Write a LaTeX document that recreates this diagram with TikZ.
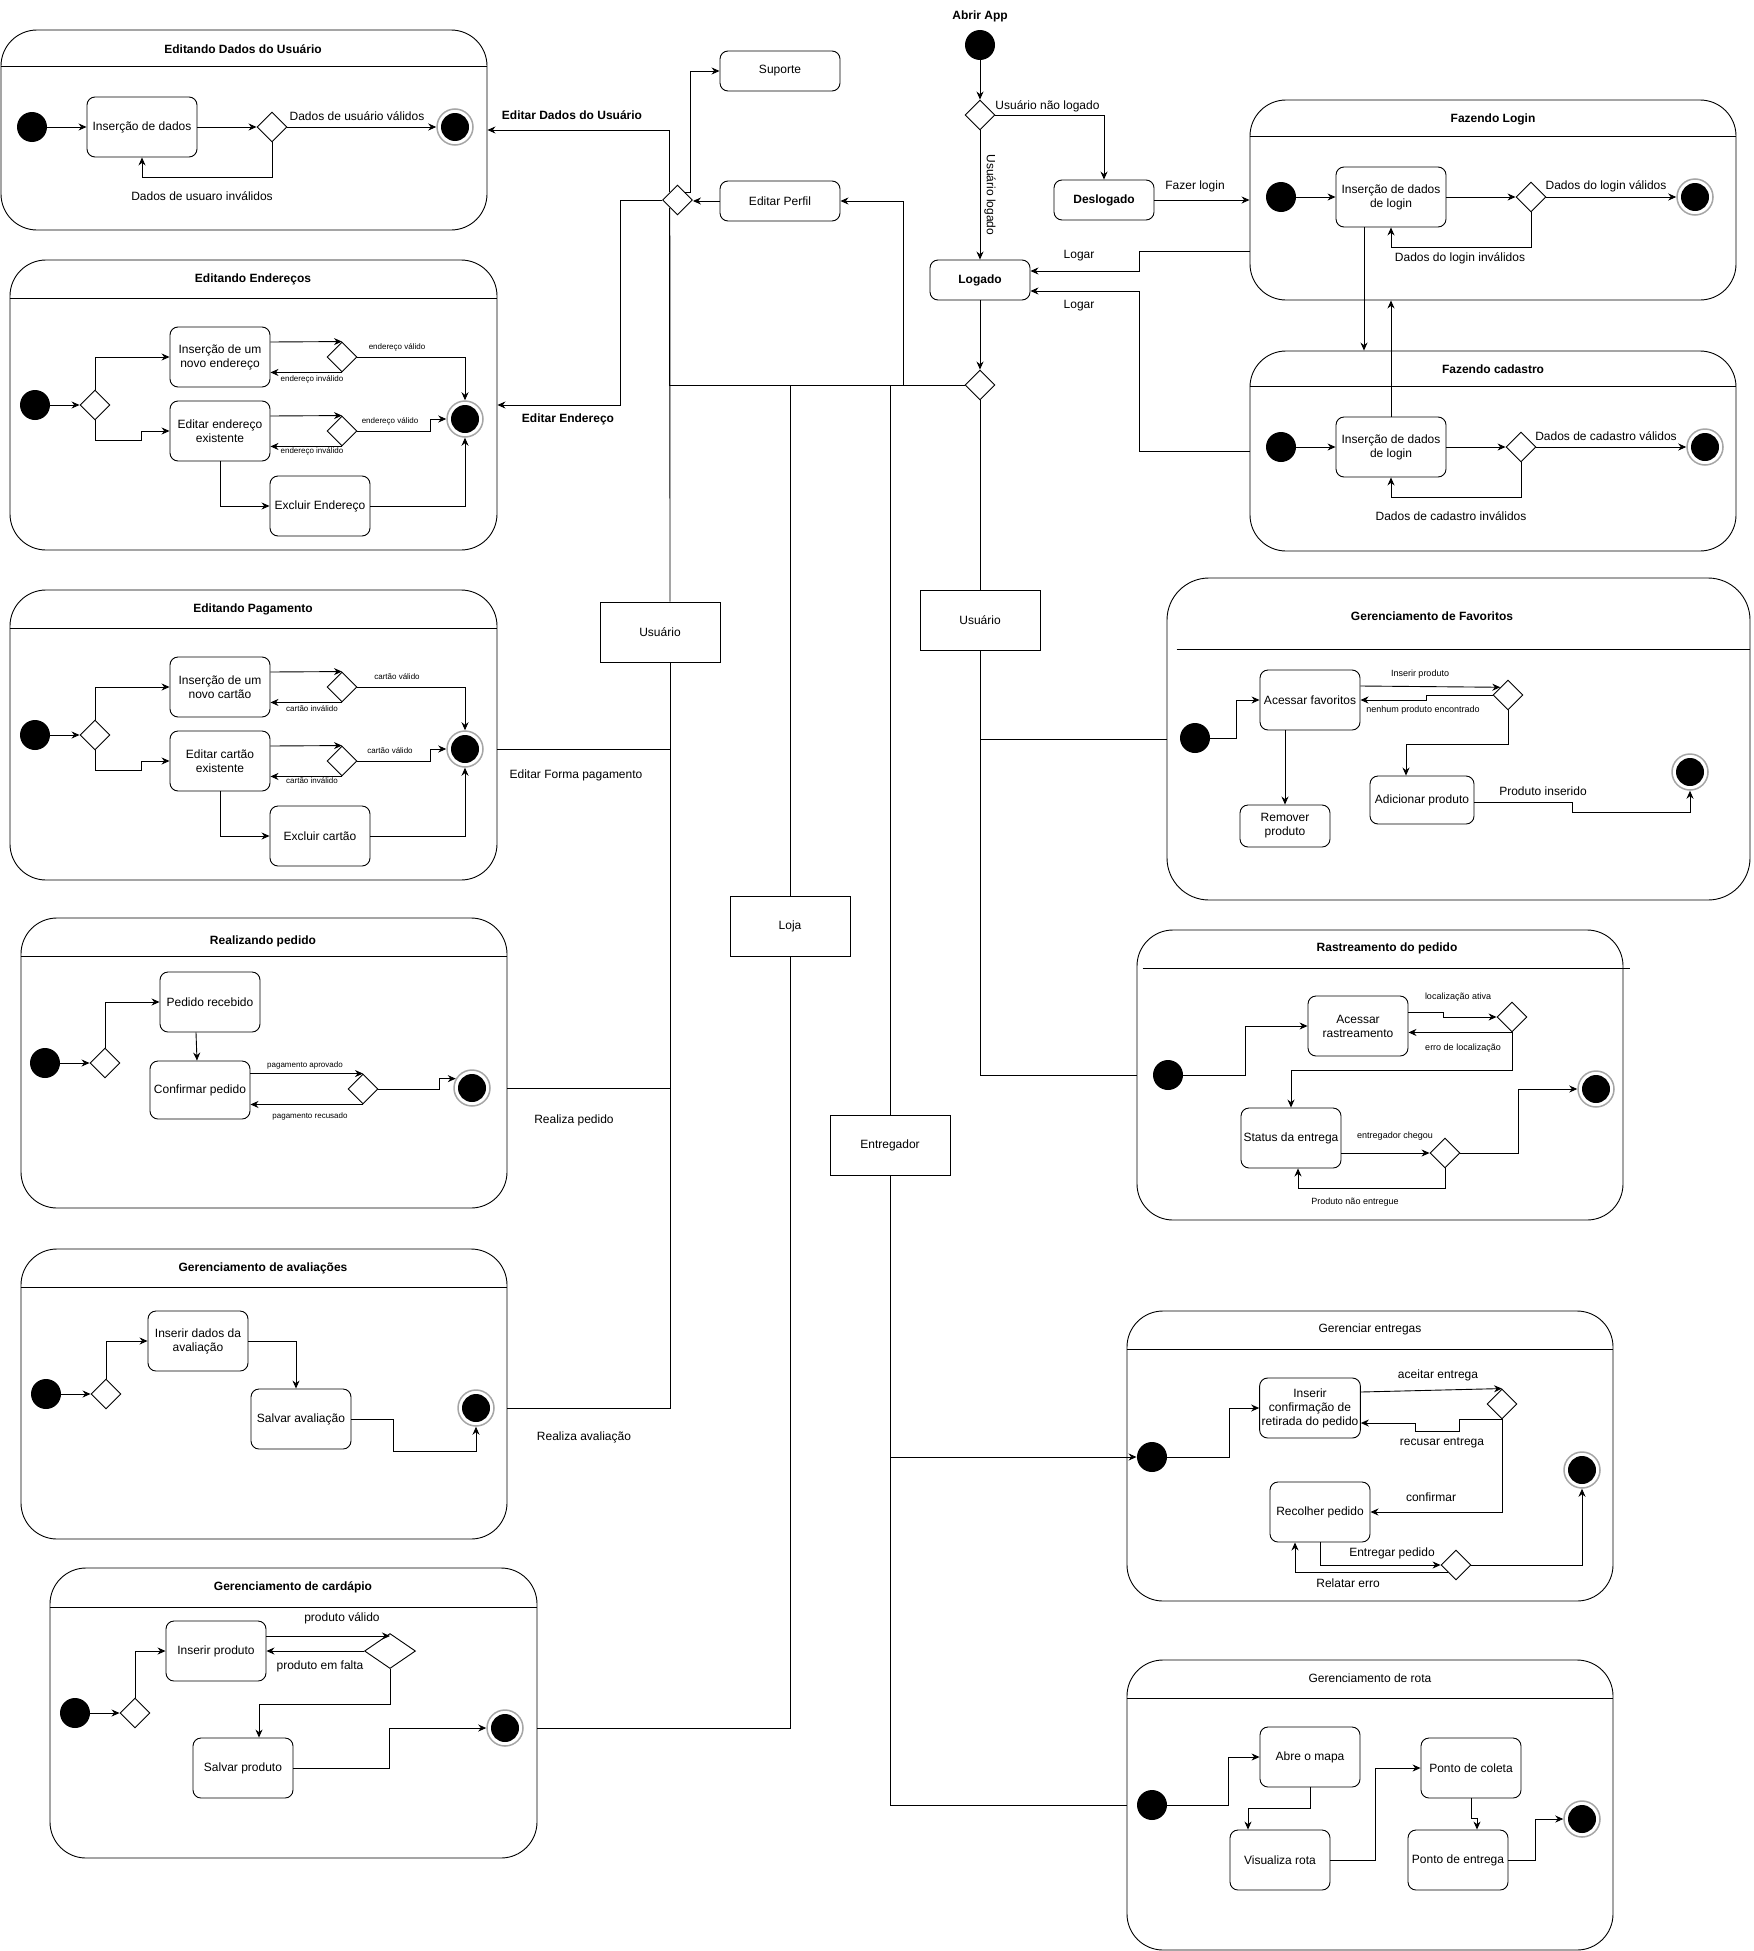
\documentclass[tikz,border=0pt]{standalone}
\usepackage{fontspec}
\setmainfont{Liberation Sans}
\usetikzlibrary{shapes.geometric, arrows.meta, positioning}
\tikzset{
acao/.style={ % rounded activity box
draw, rounded corners=8pt, fill=white,
minimum width=100pt, minimum height=60pt,
align=center, inner sep=2pt},
caixa/.style={ % plain box on the main lines
draw, fill=white, minimum width=120pt, minimum height=60pt},
grupo/.style={ % frame of a composite state
draw, rounded corners=36pt, inner sep=0pt},
inicio/.style={circle, fill=black, minimum size=30pt, inner sep=0pt},
fim/.style={ % final state: grey ring, black disc
circle, draw=gray!70, line width=1.5pt, fill=white,
minimum size=36pt, inner sep=0pt,
path picture={\fill[black] (path picture bounding box.center) circle (14pt);}},
decisao/.style={diamond, draw, fill=white,
minimum width=30pt, minimum height=30pt, inner sep=0pt},
titulo/.style={font=\fontsize{12}{14}\selectfont\bfseries},
rotulo/.style={inner sep=1pt},
peq/.style={font=\fontsize{8}{9}\selectfont, inner sep=1pt},
med/.style={font=\fontsize{9}{10}\selectfont, inner sep=1pt},
seta/.style={-{Stealth[length=8pt, width=7pt]}} % directed transition
}

\begin{document}
\begin{tikzpicture}[x=1pt, y=-1pt, line width=0.9pt, font=\fontsize{12}{14}\selectfont]
\useasboundingbox (0,0) rectangle (1753,1951);

% frames
\node[grupo, minimum width=486pt, minimum height=200pt] (dadosUsuario) at (244,130) {};
\node[grupo, minimum width=487pt, minimum height=290pt] (enderecos) at (253.5,405) {};
\node[grupo, minimum width=487pt, minimum height=290pt] (pagamento) at (253.5,735) {};
\node[grupo, minimum width=486pt, minimum height=290pt] (pedido) at (264,1063) {};
\node[grupo, minimum width=486pt, minimum height=290pt] (avaliacoes) at (264,1394) {};
\node[grupo, minimum width=487pt, minimum height=290pt] (cardapio) at (293.5,1713) {};
\node[grupo, minimum width=486pt, minimum height=200pt] (login) at (1493,200) {};
\node[grupo, minimum width=486pt, minimum height=200pt] (cadastro) at (1493,451) {};
\node[grupo, minimum width=583pt, minimum height=322pt, rounded corners=42pt] (favoritos) at (1458.5,739) {};
\node[grupo, minimum width=486pt, minimum height=290pt] (rastreamento) at (1380,1075) {};
\node[grupo, minimum width=486pt, minimum height=290pt] (entregas) at (1370,1456) {};
\node[grupo, minimum width=486pt, minimum height=290pt] (rota) at (1370,1805) {};

\draw ([yshift=-37pt]dadosUsuario.north west) -- ([yshift=-37pt]dadosUsuario.north east);
\draw ([yshift=-39pt]enderecos.north west) -- ([yshift=-39pt]enderecos.north east);
\draw ([yshift=-39pt]pagamento.north west) -- ([yshift=-39pt]pagamento.north east);
\draw ([yshift=-39pt]pedido.north west) -- ([yshift=-39pt]pedido.north east);
\draw ([yshift=-39pt]avaliacoes.north west) -- ([yshift=-39pt]avaliacoes.north east);
\draw ([yshift=-40pt]cardapio.north west) -- ([yshift=-40pt]cardapio.north east);
\draw ([yshift=-37pt]login.north west) -- ([yshift=-37pt]login.north east);
\draw ([yshift=-36pt]cadastro.north west) -- ([yshift=-36pt]cadastro.north east);
\draw ([xshift=10pt, yshift=-72pt]favoritos.north west) -- ([yshift=-72pt]favoritos.north east);
\draw ([xshift=6pt, yshift=-39pt]rastreamento.north west) -- ([xshift=7pt, yshift=-39pt]rastreamento.north east);
\draw ([yshift=-39pt]entregas.north west) -- ([yshift=-39pt]entregas.north east);
\draw ([yshift=-39pt]rota.north west) -- ([yshift=-39pt]rota.north east);

\node[titulo] (tDados) at (243,49) {Editando Dados do Usuário};
\node[titulo] (tEnd) at (253,279) {Editando Endereços};
\node[titulo] (tPag) at (253,609) {Editando Pagamento};
\node[titulo] (tPed) at (263,941) {Realizando pedido};
\node[titulo] (tAval) at (263,1268) {Gerenciamento de avaliações};
\node[titulo] (tCard) at (293,1587) {Gerenciamento de cardápio};
\node[titulo] (tLogin) at (1493,119) {Fazendo Login};
\node[titulo] (tCad) at (1493,369) {Fazendo cadastro};
\node[titulo] (tFav) at (1432,616) {Gerenciamento de Favoritos};
\node[titulo] (tRast) at (1387,948) {Rastreamento do pedido};
\node (tEntregas) at (1370,1329) {Gerenciar entregas};
\node (tRota) at (1370,1678) {Gerenciamento de rota};

% main flow
\node[titulo] (abrir) at (980,16) {Abrir App};
\node[inicio] (ini) at (980,45) {};
\node[decisao] (d0) at (980,115) {};
\node[acao, titulo, minimum height=40pt] (deslogado) at (1104,200) {Deslogado};
\node[acao, titulo, minimum height=40pt] (logado) at (980,280) {Logado};
\node[decisao] (d1) at (980,385) {};
\node[acao, minimum width=120pt, minimum height=40pt] (suporte) at (780,71) {Suporte};
\node[acao, minimum width=120pt, minimum height=40pt] (perfil) at (780,201) {Editar Perfil};
\node[decisao] (dperfil) at (677.5,200) {};
\node[caixa] (usuario) at (660,632) {Usuário};
\node[caixa] (loja) at (790,926) {Loja};
\node[caixa] (entregador) at (890,1145) {Entregador};
\node[caixa] (cliente) at (980,620) {Usuário};

\draw[seta] (ini) -- (d0);
\draw[seta] (d0.east) -| (deslogado.north);
\node[rotulo, anchor=west] (lNao) at (994,106) {Usuário não logado};
\draw[seta] (d0.south) -- (logado.north);
\node[rotulo, rotate=-90] (lLogado) at (990,195) {Usuário logado};
\draw[seta] (deslogado.east) -- (login.west);
\node[rotulo] (lFazer) at (1195,186) {Fazer login};
\draw[seta] ([yshift=-51pt]login.west) -- ++(-110,0) |- ([yshift=9pt]logado.east);
\draw[seta] (cadastro.west) -- ++(-110,0) |- ([yshift=-11pt]logado.east);
\node[rotulo] (lLogar1) at (1079,256) {Logar};
\node[rotulo] (lLogar2) at (1079,306) {Logar};
\draw[seta] (logado.south) -- (d1.north);

\coordinate (jPerfil) at (903,385);
\coordinate (jLoja) at (790,385);
\coordinate (jEntregador) at (890,385);
\draw (d1.west) -| (dperfil.south west);
\draw[seta] (jPerfil) |- (perfil.east);
\draw (jLoja) -- (loja.north);
\draw (jEntregador) -- (entregador.north);
\draw (d1.south) -- (cliente.north);
\draw[seta] (perfil.west) -- (perfil.west -| dperfil.east);
\draw[seta] (dperfil.north east) -- ++(5,0) |- (suporte.west);
\draw[seta] (dperfil.north west) |- (dadosUsuario.east);
\node[titulo] (lEditarDados) at (572,115) {Editar Dados do Usuário};
\draw[seta] (dperfil.west) -- ++(-41.5,0) |- (enderecos.east);
\node[titulo] (lEditarEnd) at (568,419) {Editar Endereço};
\draw (dperfil.south west) -- ([xshift=10pt]usuario.north);
\draw ([xshift=10pt]usuario.south) |- ([yshift=-14pt]pagamento.east);
\draw ([xshift=10pt]usuario.south) |- ([yshift=-25pt]pedido.east);
\draw ([xshift=10pt]usuario.south) |- ([yshift=-14pt]avaliacoes.east);
\node[rotulo] (lForma) at (576,775) {Editar Forma pagamento};
\node[rotulo] (lPedido) at (574,1120) {Realiza pedido};
\node[rotulo] (lAval) at (584,1437) {Realiza avaliação};
\draw (loja.south) |- ([yshift=-15pt]cardapio.east);
\draw (cliente.south) |- (favoritos.west);
\draw (cliente.south) |- (rastreamento.west);

% Editando Dados do Usuario
\node[inicio] (duIni) at (32,127) {};
\node[acao, minimum width=110pt] (duIns) at (142,127) {Inserção de dados};
\node[decisao] (duD) at (272,127) {};
\node[fim] (duFim) at (455,127) {};
\draw[seta] (duIni) -- (duIns);
\draw[seta] (duIns) -- (duD);
\draw[seta] (duD) -- (duFim);
\draw[seta] (duD.south) -- ++(0,35) -| (duIns.south);
\node[rotulo] (lDuOk) at (357,116) {Dados de usuário válidos};
\node[rotulo] (lDuErro) at (202,196) {Dados de usuaro inválidos};

% Editando Enderecos
\node[inicio] (enIni) at (35,405) {};
\node[decisao] (enD0) at (95,405) {};
\node[acao] (enB1) at (220,357) {Inserção de um\\novo endereço};
\node[acao] (enB2) at (220,431) {Editar endereço\\existente};
\node[acao] (enB3) at (320,506) {Excluir Endereço};
\node[decisao] (enD1) at (342,357) {};
\node[decisao] (enD2) at (342,431) {};
\node[fim] (enFim) at (465,419) {};
\draw[seta] (enIni) -- (enD0);
\draw[seta] (enD0.north) |- (enB1.west);
\draw[seta] (enD0.south) -- ++(0,20) -- ++(46,0) |- (enB2.west);
\draw[seta] ([yshift=15pt]enB1.east) -- (enD1.north);
\draw[seta] (enD1.south) -- (enD1.south -| enB1.east);
\draw[seta] (enD1.east) -| (enFim.north);
\draw[seta] ([yshift=15pt]enB2.east) -- (enD2.north);
\draw[seta] (enD2.south) -- (enD2.south -| enB2.east);
\draw[seta] (enD2.east) -- ++(73,0) |- (enFim.west);
\draw[seta] (enB2.south) |- (enB3.west);
\draw[seta] (enB3.east) -| (enFim.south);
\node[peq] (lEn1) at (397,347) {endereço válido};
\node[peq] (lEn2) at (312,379) {endereço inválido};
\node[peq] (lEn3) at (390,421) {endereço válido};
\node[peq] (lEn4) at (312,451) {endereço inválido};

% Editando Pagamento
\node[inicio] (pgIni) at (35,735) {};
\node[decisao] (pgD0) at (95,735) {};
\node[acao] (pgB1) at (220,687) {Inserção de um\\novo cartão};
\node[acao] (pgB2) at (220,761) {Editar cartão\\existente};
\node[acao] (pgB3) at (320,836) {Excluir cartão};
\node[decisao] (pgD1) at (342,687) {};
\node[decisao] (pgD2) at (342,761) {};
\node[fim] (pgFim) at (465,749) {};
\draw[seta] (pgIni) -- (pgD0);
\draw[seta] (pgD0.north) |- (pgB1.west);
\draw[seta] (pgD0.south) -- ++(0,20) -- ++(46,0) |- (pgB2.west);
\draw[seta] ([yshift=15pt]pgB1.east) -- (pgD1.north);
\draw[seta] (pgD1.south) -- (pgD1.south -| pgB1.east);
\draw[seta] (pgD1.east) -| (pgFim.north);
\draw[seta] ([yshift=15pt]pgB2.east) -- (pgD2.north);
\draw[seta] (pgD2.south) -- (pgD2.south -| pgB2.east);
\draw[seta] (pgD2.east) -- ++(73,0) |- (pgFim.west);
\draw[seta] (pgB2.south) |- (pgB3.west);
\draw[seta] (pgB3.east) -| (pgFim.south);
\node[peq] (lPg1) at (397,677) {cartão válido};
\node[peq] (lPg2) at (312,709) {cartão inválido};
\node[peq] (lPg3) at (390,751) {cartão válido};
\node[peq] (lPg4) at (312,781) {cartão inválido};

% Realizando pedido
\node[inicio] (pdIni) at (45,1063) {};
\node[decisao] (pdD0) at (105,1063) {};
\node[acao] (pdB1) at (210,1002) {Pedido recebido};
\node[acao, minimum height=58pt] (pdB2) at (200,1090) {Confirmar pedido};
\node[decisao] (pdD1) at (363,1089) {};
\node[fim] (pdFim) at (472,1088) {};
\draw[seta] (pdIni) -- (pdD0);
\draw[seta] (pdD0.north) |- (pdB1.west);
\draw[seta] ([xshift=-14pt]pdB1.south) -- ([xshift=-3pt]pdB2.north);
\draw[seta] (pdB2.east |- pdD1.north) -- (pdD1.north);
\draw[seta] (pdD1.south) -- (pdD1.south -| pdB2.east);
\draw[seta] (pdD1.east) -- ++(61,0) |- (pdFim.150);
\node[peq] (lPd1) at (305,1065) {pagamento aprovado};
\node[peq] (lPd2) at (310,1116) {pagamento recusado};

% Gerenciamento de avaliacoes
\node[inicio] (avIni) at (46,1394) {};
\node[decisao] (avD0) at (106,1394) {};
\node[acao] (avB1) at (198,1341) {Inserir dados da\\avaliação};
\node[acao] (avB2) at (301,1419) {Salvar avaliação};
\node[fim] (avFim) at (476,1408) {};
\draw[seta] (avIni) -- (avD0);
\draw[seta] (avD0.north) |- (avB1.west);
\draw[seta] (avB1.east) -| ([xshift=-5pt]avB2.north);
\draw[seta] (avB2.east) -- ++(42,0) -- ++(0,32) -| (avFim.south);

% Gerenciamento de cardapio
\node[inicio] (cdIni) at (75,1713) {};
\node[decisao] (cdD0) at (135,1713) {};
\node[acao] (cdB1) at (216,1651) {Inserir produto};
\node[decisao, minimum width=51pt, minimum height=35pt] (cdD1) at (390,1651) {};
\node[acao] (cdB2) at (243,1768) {Salvar produto};
\node[fim] (cdFim) at (505,1728) {};
\draw[seta] (cdIni) -- (cdD0);
\draw[seta] (cdD0.north) |- (cdB1.west);
\draw[seta] ([yshift=15pt]cdB1.east) -- ([yshift=15pt]cdB1.east -| cdD1.north);
\draw[seta] (cdD1.west) -- (cdB1.east);
\draw[seta] (cdD1.south) -- ++(0,35) -| ([xshift=16pt]cdB2.north);
\draw[seta] (cdB2.east) -- ++(96,0) |- (cdFim.west);
\node[rotulo] (lCd1) at (342,1618) {produto válido};
\node[rotulo] (lCd2) at (320,1666) {produto em falta};

% Fazendo Login
\node[inicio] (lgIni) at (1281,197) {};
\node[acao, minimum width=110pt] (lgIns) at (1391,197) {Inserção de dados\\de login};
\node[decisao] (lgD) at (1531,197) {};
\node[fim] (lgFim) at (1695,197) {};
\draw[seta] (lgIni) -- (lgIns);
\draw[seta] (lgIns) -- (lgD);
\draw[seta] (lgD) -- (lgFim);
\draw[seta] (lgD.south) -- ++(0,35) -| (lgIns.south);
\node[rotulo] (lLg1) at (1606,186) {Dados do login válidos};
\node[rotulo] (lLg2) at (1460,258) {Dados do login inválidos};

% Fazendo cadastro
\node[inicio] (csIni) at (1281,447) {};
\node[acao, minimum width=110pt] (csIns) at (1391,447) {Inserção de dados\\de login};
\node[decisao] (csD) at (1521,447) {};
\node[fim] (csFim) at (1705,447) {};
\draw[seta] (csIni) -- (csIns);
\draw[seta] (csIns) -- (csD);
\draw[seta] (csD) -- (csFim);
\draw[seta] (csD.south) -- ++(0,35) -| (csIns.south);
\node[rotulo] (lCs1) at (1606,436) {Dados de cadastro válidos};
\node[rotulo] (lCs2) at (1451,516) {Dados de cadastro inválidos};
\draw[seta] ([xshift=-27pt]lgIns.south) -- ([xshift=-27pt]lgIns.south |- cadastro.north);
\draw[seta] (csIns.north) -- (csIns.north |- login.south);

% Gerenciamento de Favoritos
\node[inicio] (fvIni) at (1195,738) {};
\node[acao] (fvB1) at (1310,700) {Acessar favoritos};
\node[decisao] (fvD) at (1508,695) {};
\node[acao, minimum width=104pt, minimum height=48pt] (fvB2) at (1422,800) {Adicionar produto};
\node[acao, minimum width=90pt, minimum height=42pt] (fvB3) at (1285,826) {Remover\\produto};
\node[fim] (fvFim) at (1690,772) {};
\draw[seta] (fvIni.east) -- ++(26,0) |- (fvB1.west);
\draw[seta] ([yshift=14pt]fvB1.east) -- (fvD.north west);
\draw[seta] (fvD.west) -- ++(-66,0) |- (fvB1.east);
\draw[seta] (fvD.south) -- ++(0,34) -| ([xshift=-16pt]fvB2.north);
\draw[seta] ([xshift=-25pt]fvB1.south) -- (fvB3.north);
\draw[seta] ([yshift=-2pt]fvB2.east) -- ++(98,0) -- ++(0,10) -| (fvFim.south);
\node[med] (lFv1) at (1420,674) {Inserir produto};
\node[med] (lFv2) at (1423,710) {nenhum produto encontrado};
\node[rotulo] (lFv3) at (1543,791) {Produto inserido};

% Rastreamento do pedido
\node[inicio] (rsIni) at (1168,1075) {};
\node[acao] (rsB1) at (1358,1026) {Acessar\\rastreamento};
\node[decisao] (rsD1) at (1512,1017) {};
\node[acao] (rsB2) at (1291,1138) {Status da entrega};
\node[decisao] (rsD2) at (1445,1153) {};
\node[fim] (rsFim) at (1596,1089) {};
\draw[seta] (rsIni.east) -- ++(62,0) |- (rsB1.west);
\draw[seta] ([yshift=14pt]rsB1.east) -- ++(35,0) |- (rsD1.west);
\draw[seta] (rsD1.south) -- (rsD1.south -| rsB1.east);
\draw[seta] (rsD1.south) -- ++(0,38) -| (rsB2.north);
\draw[seta] ([yshift=-15pt]rsB2.east) -- (rsD2.west);
\draw[seta] (rsD2.east) -- ++(58,0) |- (rsFim.west);
\draw[seta] (rsD2.south) -- ++(0,20) -| ([xshift=7pt]rsB2.south);
\node[med] (lRs1) at (1458,997) {localização ativa};
\node[med] (lRs2) at (1463,1048) {erro de localização};
\node[med] (lRs3) at (1395,1136) {entregador chegou};
\node[med] (lRs4) at (1355,1202) {Produto não entregue};

% Gerenciar entregas
\node[inicio] (egIni) at (1152,1457) {};
\node[acao] (egB1) at (1310,1408) {Inserir\\confirmação de\\retirada do pedido};
\node[decisao] (egD1) at (1502,1404) {};
\node[acao] (egB2) at (1320,1512) {Recolher pedido};
\node[decisao] (egD2) at (1456,1565) {};
\node[fim] (egFim) at (1582,1470) {};
\draw[seta] (entregador.south) |- (egIni.west);
\draw[seta] (egIni.east) -- ++(62,0) |- (egB1.west);
\draw[seta] ([yshift=16pt]egB1.east) -- (egD1.north);
\draw[seta] (egD1.south) -- ++(-43,0) -- ++(0,12) -- ++(-44,0) |- ([yshift=-15pt]egB1.east);
\draw[seta] (egD1.south) |- (egB2.east);
\draw[seta] (egB2.south) |- (egD2.west);
\draw[seta] (egD2.south west) -| ([xshift=-25pt]egB2.south);
\draw[seta] (egD2.east) -| (egFim.south);
\node[rotulo] (lEg1) at (1438,1375) {aceitar entrega};
\node[rotulo] (lEg2) at (1442,1443) {recusar entrega};
\node[rotulo] (lEg3) at (1431,1497) {confirmar};
\node[rotulo] (lEg4) at (1392,1553) {Entregar pedido};
\node[rotulo] (lEg5) at (1348,1583) {Relatar erro};

% Gerenciamento de rota
\node[inicio] (rtIni) at (1152,1805) {};
\node[acao] (rtB1) at (1310,1757) {Abre o mapa};
\node[acao] (rtB2) at (1280,1860) {Visualiza rota};
\node[acao] (rtB3) at (1471,1768) {Ponto de coleta};
\node[acao] (rtB4) at (1458,1860) {Ponto de entrega};
\node[fim] (rtFim) at (1582,1819) {};
\draw (entregador.south) |- (rota.west);
\draw[seta] (rtIni.east) -- ++(61,0) |- (rtB1.west);
\draw[seta] (rtB1.south) -- ++(0,21) -| ([xshift=-32pt]rtB2.north);
\draw[seta] (rtB2.east) -- ++(45,0) |- (rtB3.west);
\draw[seta] (rtB3.south) -- ++(0,20) -| ([xshift=19pt]rtB4.north);
\draw[seta] (rtB4.east) -- ++(27,0) |- (rtFim.west);

\end{tikzpicture}
\end{document}
